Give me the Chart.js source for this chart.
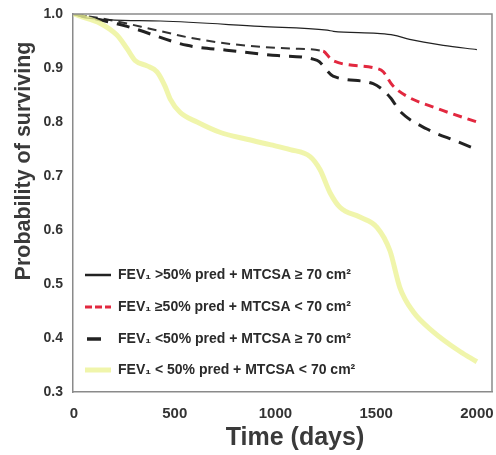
<!DOCTYPE html>
<html>
<head>
<meta charset="utf-8">
<script src="https://cdn.jsdelivr.net/npm/chart.js@4.4.1/dist/chart.umd.min.js"></script>
<style>
  html, body { margin: 0; padding: 0; background: #fff; }
  #wrap { width: 496px; height: 455px; position: relative; }
</style>
</head>
<body>
<div id="wrap"><canvas id="survivalChart" width="496" height="455"></canvas></div>
<script>
// --- Datos ---
const xTicks = [0, 500, 1000, 1500, 2000];
const yTicks = [0.3, 0.4, 0.5, 0.6, 0.7, 0.8, 0.9, 1.0];

const tituloX = 'Time (days)';
const tituloY = 'Probability of surviving';

const etiquetas = [
    'FEV\u2081 >50% pred + MTCSA \u2265 70 cm\u00b2',
    'FEV\u2081 \u226550% pred + MTCSA < 70 cm\u00b2',
    'FEV\u2081 <50% pred + MTCSA \u2265 70 cm\u00b2',
    'FEV\u2081 < 50% pred + MTCSA < 70 cm\u00b2'
];

// FEV1 >50% + MTCSA >= 70 (linea continua)
const dias1 = [0, 55, 429, 924, 1257, 1288, 1505, 1586, 1666, 1833, 2000];
const prob1 = [1.0, 0.993, 0.987, 0.977, 0.970, 0.968, 0.964, 0.961, 0.953, 0.942, 0.934];

// FEV1 >=50% + MTCSA < 70 (discontinua, roja al final)
const dias2 = [0, 177, 409, 591, 838, 1086, 1237, 1283, 1505, 1535, 1581, 1651, 1803, 2000];
const prob2 = [1.0, 0.989, 0.970, 0.955, 0.942, 0.936, 0.931, 0.914, 0.899, 0.893, 0.868, 0.848, 0.825, 0.800];

// FEV1 <50% + MTCSA >= 70 (discontinua negra gruesa)
const dias3 = [0, 263, 561, 757, 1010, 1207, 1286, 1485, 1571, 1618, 1752, 1901, 2000];
const prob3 = [1.0, 0.977, 0.942, 0.933, 0.923, 0.914, 0.885, 0.871, 0.845, 0.820, 0.787, 0.764, 0.749];

// FEV1 <50% + MTCSA < 70 (amarilla)
const dias4 = [0, 30, 129, 213, 263, 303, 363, 412, 451, 477, 526, 611, 724, 858, 973, 1073, 1172, 1221, 1271, 1320, 1419, 1504, 1568, 1618, 1683, 1782, 1916, 2000];
const prob4 = [1.0, 0.996, 0.983, 0.961, 0.936, 0.914, 0.904, 0.893, 0.867, 0.843, 0.818, 0.800, 0.781, 0.768, 0.758, 0.749, 0.736, 0.712, 0.669, 0.642, 0.624, 0.605, 0.562, 0.493, 0.449, 0.412, 0.375, 0.356];

const puntos = (xs, ys) => xs.map((x, i) => ({ x: x, y: ys[i] }));

const ROJO = '#e2283f';
const AMARILLO = 'rgba(236, 243, 150, 0.8)';
const FUENTE = '"Liberation Sans", Arial, sans-serif';

// --- Leyenda dentro del area del grafico, marco y titulos ---
const leyendaPlugin = {
    id: 'leyendaInterna',
    afterDatasetsDraw(chart) {
        const ctx = chart.ctx;
        const a = chart.chartArea;
        ctx.save();
        // marco superior y derecho
        ctx.strokeStyle = '#8a8a8a';
        ctx.lineWidth = 1.5;
        ctx.beginPath();
        ctx.moveTo(a.left, a.top);
        ctx.lineTo(a.right, a.top);
        ctx.lineTo(a.right, a.bottom);
        ctx.stroke();

        const filas = [275, 307, 339, 370];
        const estilos = [
            { color: '#222', width: 2.5, dash: [], x0: 85, x1: 111 },
            { color: ROJO, width: 3, dash: [7, 3], x0: 85, x1: 111 },
            { color: '#222', width: 3.5, dash: [], x0: 87, x1: 101 },
            { color: AMARILLO, width: 5, dash: [], x0: 85, x1: 111 }
        ];
        ctx.font = 'bold 14px ' + FUENTE;
        ctx.fillStyle = '#2a2a2a';
        ctx.textBaseline = 'middle';
        filas.forEach((y, i) => {
            const e = estilos[i];
            ctx.strokeStyle = e.color;
            ctx.lineWidth = e.width;
            ctx.setLineDash(e.dash);
            ctx.beginPath();
            ctx.moveTo(e.x0, y);
            ctx.lineTo(e.x1, y);
            ctx.stroke();
            ctx.setLineDash([]);
            ctx.fillText(etiquetas[i], 118, y);
        });

        // titulos de los ejes
        ctx.fillStyle = '#3a3a3a';
        ctx.textAlign = 'center';
        ctx.textBaseline = 'middle';
        ctx.font = 'bold 25px ' + FUENTE;
        ctx.fillText(tituloX, 295, 438);
        ctx.translate(24, 161);
        ctx.rotate(-Math.PI / 2);
        ctx.font = 'bold 21.5px ' + FUENTE;
        ctx.fillText(tituloY, 0, 0);
        ctx.restore();
    }
};

const ctx = document.getElementById('survivalChart').getContext('2d');
new Chart(ctx, {
    type: 'line',
    data: {
        datasets: [
            {
                label: etiquetas[3],
                data: puntos(dias4, prob4),
                borderColor: AMARILLO,
                borderWidth: 5,
                pointRadius: 0,
                cubicInterpolationMode: 'monotone'
            },
            {
                label: etiquetas[0],
                data: puntos(dias1, prob1),
                borderColor: '#222',
                borderWidth: 1.2,
                pointRadius: 0,
                cubicInterpolationMode: 'monotone'
            },
            {
                label: etiquetas[2],
                data: puntos(dias3, prob3),
                borderColor: '#222',
                borderWidth: 3,
                borderDash: [13, 9],
                pointRadius: 0,
                cubicInterpolationMode: 'monotone'
            },
            {
                label: etiquetas[1],
                data: puntos(dias2, prob2),
                borderColor: '#333',
                borderWidth: 2,
                borderDash: [9, 6],
                pointRadius: 0,
                cubicInterpolationMode: 'monotone',
                segment: {
                    borderColor: c => c.p0.parsed.x >= 1237 ? ROJO : '#333',
                    borderWidth: c => c.p0.parsed.x >= 1237 ? 3 : 2
                }
            }
        ]
    },
    options: {
        responsive: false,
        animation: false,
        layout: { padding: { top: 14, right: 4, left: 0, bottom: 0 } },
        plugins: {
            legend: { display: false },
            tooltip: { enabled: false }
        },
        scales: {
            x: {
                type: 'linear',
                min: -5,
                max: 2075,
                afterBuildTicks: s => { s.ticks = xTicks.map(v => ({ value: v })); },
                afterFit: s => { s.height = 63; s.paddingLeft = 0; s.paddingRight = 0; },
                grid: { display: false, drawTicks: false },
                border: { display: true, color: '#8a8a8a', width: 1.5 },
                ticks: {
                    color: '#333',
                    padding: 13,
                    maxRotation: 0,
                    callback: v => String(v),
                    font: { family: FUENTE, size: 15, weight: 'bold' }
                },
                title: { display: false }
            },
            y: {
                min: 0.3,
                max: 1.0,
                afterBuildTicks: s => { s.ticks = yTicks.map(v => ({ value: v })); },
                afterFit: s => { s.width = 73; s.paddingTop = 0; s.paddingBottom = 0; },
                grid: { display: false, drawTicks: false },
                border: { display: true, color: '#8a8a8a', width: 1.5 },
                ticks: {
                    color: '#333',
                    padding: 10,
                    callback: v => v.toFixed(1),
                    font: { family: FUENTE, size: 14, weight: 'bold' }
                },
                title: { display: false }
            }
        }
    },
    plugins: [leyendaPlugin]
});
</script>
</body>
</html>
